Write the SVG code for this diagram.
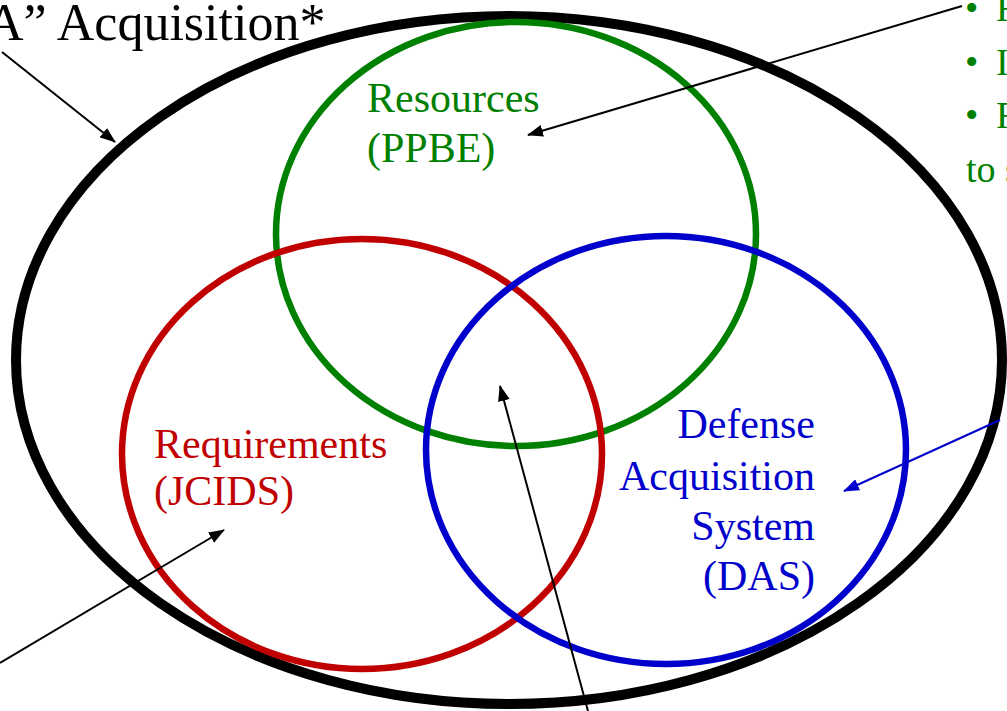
<svg xmlns="http://www.w3.org/2000/svg" width="1007" height="711" viewBox="0 0 1007 711">
  <style>
    .lbl { font-family: "Liberation Serif", "Times New Roman", serif; }
    .ring { fill: none; }
    .green { fill: #008000; }
    .red { fill: #C00000; }
    .blue { fill: #0000CC; }
    .link { stroke: #000; stroke-width: 2; fill: none; }
  </style>
  <defs>
    <marker id="head" viewBox="0 0 16 12" refX="15" refY="6" markerWidth="16" markerHeight="12" markerUnits="userSpaceOnUse" orient="auto">
      <path d="M0,0 L16,6 L0,12 Z" fill="#000"/>
    </marker>
    <marker id="headBlue" viewBox="0 0 16 12" refX="15" refY="6" markerWidth="16" markerHeight="12" markerUnits="userSpaceOnUse" orient="auto">
      <path d="M0,0 L16,6 L0,12 Z" fill="#0000CC"/>
    </marker>
  </defs>
  <rect width="1007" height="711" fill="#fff"/>

  <!-- outer boundary -->
  <g id="big-a">
    <ellipse class="ring" cx="509" cy="360" rx="493" ry="344" stroke="#000" stroke-width="10"/>
    <text class="lbl" x="-14" y="40" font-size="52" fill="#000">A” Acquisition*</text>
  </g>

  <!-- Resources (PPBE) -->
  <g id="resources">
    <ellipse class="ring" cx="516" cy="234" rx="240" ry="212" stroke="#008000" stroke-width="6.5"/>
    <text class="lbl green" font-size="42"><tspan x="367" y="112">Resources</tspan><tspan x="367" y="162">(PPBE)</tspan></text>
  </g>

  <!-- Requirements (JCIDS) -->
  <g id="requirements">
    <ellipse class="ring" cx="362" cy="454" rx="240" ry="215" stroke="#C00000" stroke-width="6.5"/>
    <text class="lbl red" font-size="42"><tspan x="154" y="458">Requirements</tspan><tspan x="154" y="505">(JCIDS)</tspan></text>
  </g>

  <!-- Defense Acquisition System (DAS) -->
  <g id="das">
    <ellipse class="ring" cx="666" cy="450" rx="240" ry="214" stroke="#0000CC" stroke-width="6.5"/>
    <text class="lbl blue" font-size="42" text-anchor="end"><tspan x="815" y="438">Defense</tspan><tspan x="815" y="490">Acquisition</tspan><tspan x="815" y="540">System</tspan><tspan x="815" y="590">(DAS)</tspan></text>
  </g>

  <!-- side notes -->
  <g id="ppbe-notes" class="lbl green" font-size="38">
    <text x="965" y="21">•</text><text x="996" y="21">F</text>
    <text x="965" y="75">•</text><text x="996" y="75">I</text>
    <text x="965" y="128">•</text><text x="996" y="128">F</text>
    <text x="966" y="182">to s</text>
  </g>

  <!-- connectors -->
  <g id="connectors">
    <line class="link" x1="2" y1="52" x2="115" y2="142" marker-end="url(#head)"/>
    <line class="link" x1="962" y1="6" x2="528" y2="135" marker-end="url(#head)"/>
    <line class="link" x1="0" y1="663" x2="224" y2="530" marker-end="url(#head)"/>
    <line class="link" x1="588" y1="711" x2="500" y2="386" marker-end="url(#head)"/>
    <line x1="1000" y1="420" x2="844" y2="491" stroke="#0000CC" stroke-width="2" marker-end="url(#headBlue)"/>
  </g>
</svg>
